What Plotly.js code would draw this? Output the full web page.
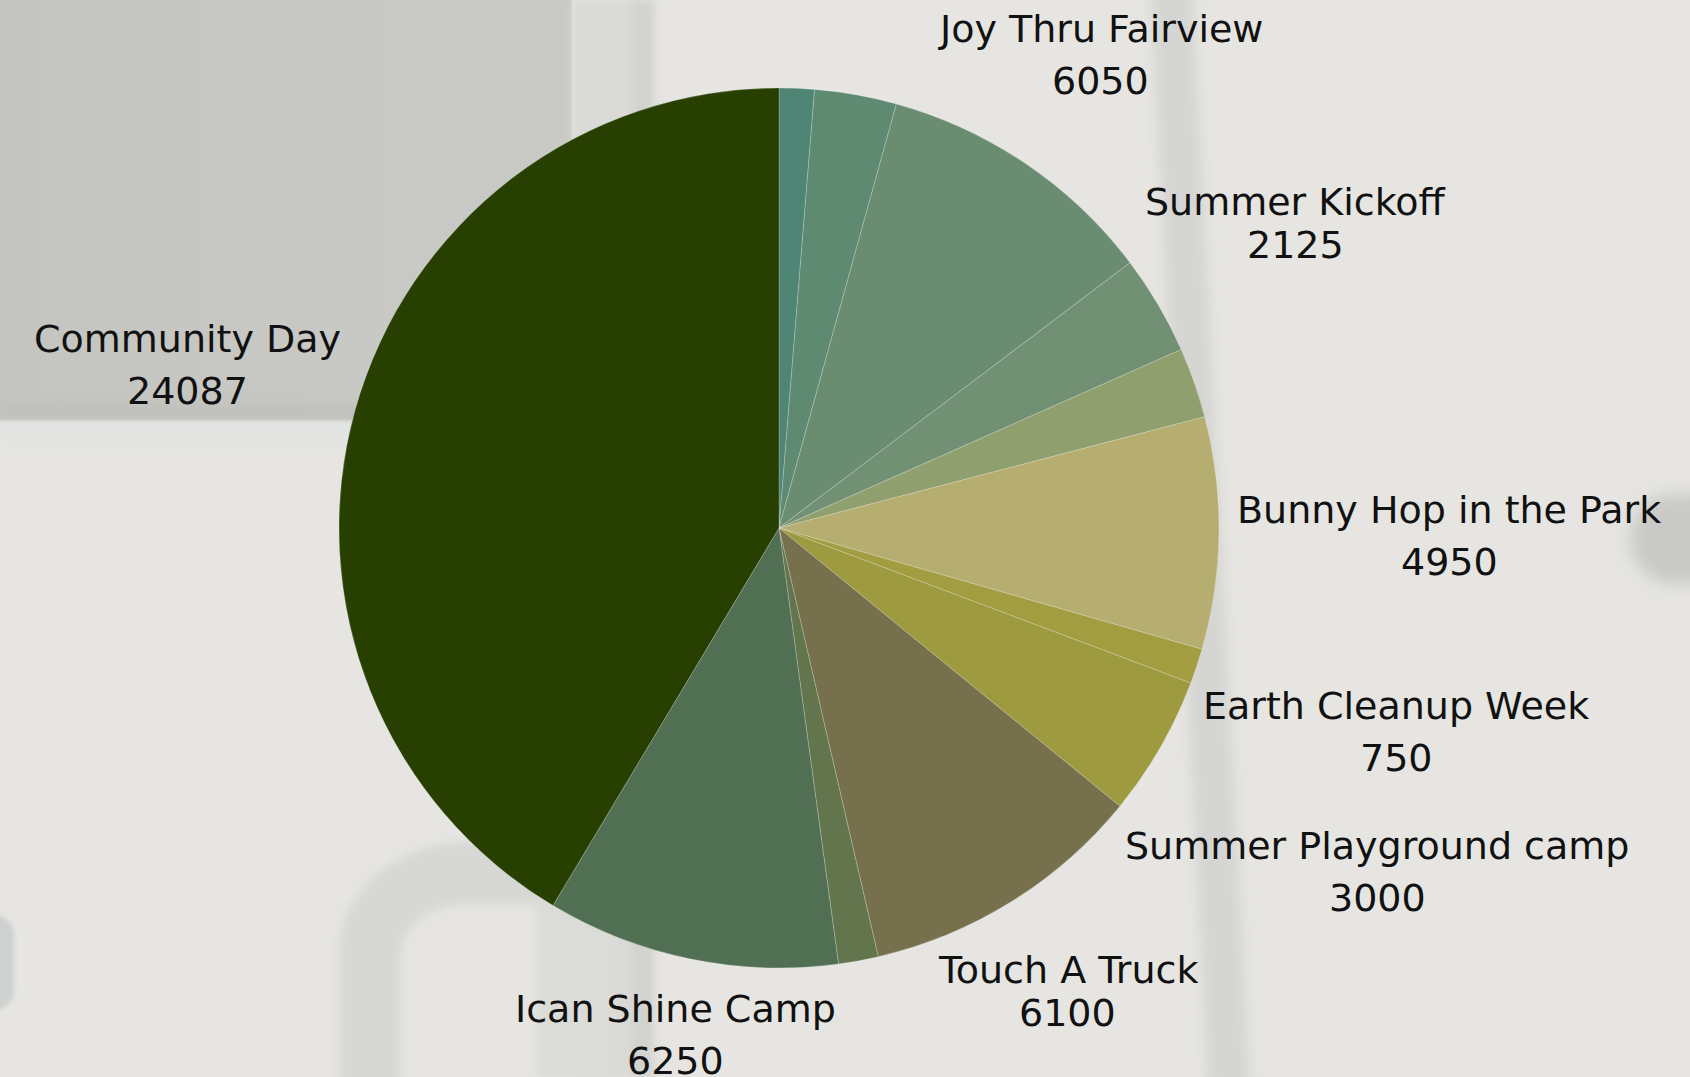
<!DOCTYPE html>
<html>
<head>
<meta charset="utf-8">
<script src="https://cdn.plot.ly/plotly-3.0.1.min.js"></script>
<style>
  html, body { margin: 0; padding: 0; width: 1690px; height: 1077px; overflow: hidden; }
  #bg { position: absolute; left: 0; top: 0; width: 1690px; height: 1077px; background: #e6e5e1; overflow: hidden; }
  #bg div { position: absolute; }
  #chart { position: absolute; left: 0; top: 0; width: 1690px; height: 1077px; }
</style>
</head>
<body>
<div id="bg">
  <!-- upper-left wall panel -->
  <div style="left:0;top:0;width:572px;height:420px;background:linear-gradient(90deg,#c4c4c0 0%,#c8c8c4 60%,#c9c9c5 100%);"></div>
  <div style="left:0;top:398px;width:572px;height:24px;background:linear-gradient(180deg,rgba(190,190,186,0) 0%,#bebeba 70%,#cdcfcc 100%);filter:blur(3px);"></div>
  <div style="left:0;top:422px;width:572px;height:30px;background:linear-gradient(180deg,#e2e4e2 0%,#e5e6e3 100%);filter:blur(2px);"></div>
  <!-- light / dark vertical strips -->
  <div style="left:572px;top:0;width:60px;height:1077px;background:#dadad6;filter:blur(4px);"></div>
  <div style="left:630px;top:0;width:24px;height:1077px;background:#d2d2ce;filter:blur(4px);"></div>
  <!-- right pole -->
  <div style="left:1150px;top:-20px;width:42px;height:1120px;background:#d5d5d3;filter:blur(6px);transform:skewX(3deg);transform-origin:top left;"></div>
  <!-- bottom-left pipe -->
  <div style="left:339px;top:842px;width:260px;height:400px;border:62px solid #d7d7d5;border-right:none;border-bottom:none;border-top-left-radius:130px 110px;box-sizing:border-box;filter:blur(4px);"></div>
  <div style="left:536px;top:900px;width:80px;height:177px;background:#dbdbd8;filter:blur(4px);"></div>
  <!-- left edge blob -->
  <div style="left:-20px;top:915px;width:34px;height:95px;background:#cdd1cf;border-radius:0 20px 20px 0;filter:blur(2px);"></div>
  <!-- right edge blob -->
  <div style="left:1630px;top:494px;width:140px;height:90px;background:#c9c9c7;border-radius:60px 0 0 60px;filter:blur(8px);"></div>
</div>
<div id="chart"></div>
<script>
// ---- data (clockwise from 12 o'clock) ----
const labels = ["Event A", "Event B", "Joy Thru Fairview", "Summer Kickoff", "Event C", "Bunny Hop in the Park",
                "Earth Cleanup Week", "Summer Playground camp", "Touch A Truck", "Event D", "Ican Shine Camp", "Community Day"];
const values = [750, 1750, 6050, 2125, 1500, 4950, 750, 3000, 6100, 850, 6250, 24087];
const showLabel = [false, false, true, true, false, true, true, true, true, false, true, true];

// ---- styles ----
const colors = ["#4f8574", "#5f8a72", "#6a8d71", "#729174", "#8f9f6e", "#b6ad71",
                "#a29d41", "#9d9a40", "#76714c", "#62754c", "#516f53", "#283f02"];
const compactLabel = [false, false, false, true, false, false, false, false, true, false, false, false];

const W = 1690, H = 1077;
const cx = 779, cy = 528, R = 440;
const FONT = "DejaVu Sans";
const FS = 38;
const LABEL_R = 458;

const trace = {
  type: "pie",
  labels: labels,
  values: values,
  sort: false,
  direction: "clockwise",
  rotation: 0,
  textinfo: "none",
  automargin: false,
  marker: { colors: colors, line: { color: "rgba(255,255,255,0.35)", width: 0.6 } },
  hoverinfo: "label+value+percent",
  domain: { x: [(cx - R) / W, (cx + R) / W], y: [(H - cy - R) / H, (H - cy + R) / H] }
};

// label placement derived from the data: radial at each slice's mid-angle
const canvas = document.createElement("canvas");
const ctx = canvas.getContext("2d");
ctx.font = FS + "px '" + FONT + "'";
const total = values.reduce((a, b) => a + b, 0);
const annotations = [];
let cum = 0;
values.forEach((v, i) => {
  const mid = (cum + v / 2) / total * 2 * Math.PI;
  cum += v;
  if (!showLabel[i]) return;
  const gap = compactLabel[i] ? 43 : 52;
  const w = Math.max(ctx.measureText(labels[i]).width, ctx.measureText(String(v)).width) / 2;
  const h = gap / 2 + 2;
  const sx = Math.sin(mid), sy = Math.cos(mid);
  const d = LABEL_R + w * Math.abs(sx) + h * Math.abs(sy);
  const px = cx + d * sx;
  const py = cy - d * sy;
  const common = { xref: "paper", yref: "paper", xanchor: "center", yanchor: "middle", showarrow: false,
                   font: { family: FONT + ", sans-serif", size: FS, color: "#111111" } };
  annotations.push(Object.assign({}, common, { x: px / W, y: 1 - (py - gap / 2) / H, text: labels[i] }));
  annotations.push(Object.assign({}, common, { x: px / W, y: 1 - (py + gap / 2) / H, text: String(v) }));
});

const layout = {
  width: W, height: H,
  margin: { l: 0, r: 0, t: 0, b: 0 },
  paper_bgcolor: "rgba(0,0,0,0)",
  plot_bgcolor: "rgba(0,0,0,0)",
  showlegend: false,
  font: { family: FONT + ", sans-serif", color: "#111111" },
  annotations: annotations
};

Plotly.newPlot("chart", [trace], layout, { displayModeBar: false, staticPlot: true });
</script>
</body>
</html>
